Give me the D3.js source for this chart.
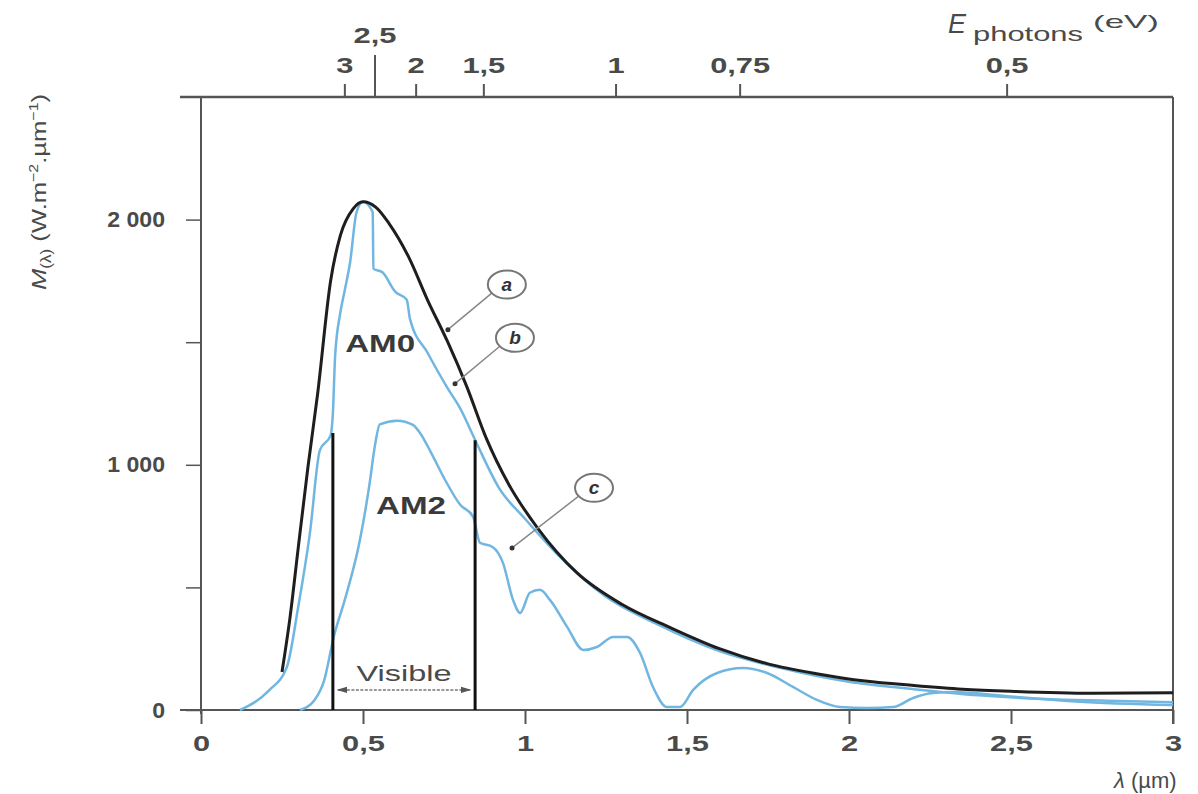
<!DOCTYPE html>
<html>
<head>
<meta charset="utf-8">
<script src="https://cdn.jsdelivr.net/npm/d3@7"></script>
<style>
  body { margin: 0; background: #fff; }
  svg { font-family: "Liberation Sans", Arial, sans-serif; }
  .tick-label { font-size: 22px; font-weight: bold; fill: #4a4a4a; }
</style>
</head>
<body>
<svg id="chart" width="1198" height="794"></svg>
<script>
"use strict";

// curve a : black body reference
var lambdaA = [0.25, 0.275, 0.30, 0.33, 0.36, 0.40, 0.43, 0.47, 0.50, 0.54, 0.58, 0.64, 0.70, 0.76, 0.82, 0.88, 0.95, 1.04, 1.16, 1.30, 1.45, 1.60, 1.75, 1.90, 2.05, 2.20, 2.35, 2.50, 2.75, 3.00];
var fluxA   = [155, 380, 660, 990, 1290, 1750, 1935, 2045, 2073, 2050, 1985, 1850, 1670, 1505, 1320, 1110, 920, 740, 560, 430, 335, 250, 188, 148, 118, 100, 85, 76, 68, 70];

// curve b : AM0
var lambdaB = [0.12, 0.21, 0.265, 0.30, 0.336, 0.367, 0.40, 0.407, 0.414, 0.43, 0.444, 0.46, 0.48, 0.50, 0.53, 0.532, 0.56, 0.60, 0.635, 0.645, 0.70, 0.76, 0.80, 0.85, 0.92, 1.00, 1.10, 1.25, 1.40, 1.60, 1.80, 2.00, 2.20, 2.40, 2.60, 2.80, 3.00];
var fluxB   = [0, 80, 175, 420, 720, 1060, 1120, 1210, 1445, 1620, 1714, 1824, 2030, 2073, 2030, 1800, 1785, 1705, 1673, 1595, 1455, 1315, 1230, 1090, 905, 780, 635, 462, 355, 240, 168, 115, 85, 60, 45, 38, 32];

// curve c : AM2
var lambdaC = [0.306, 0.35, 0.38, 0.41, 0.444, 0.49, 0.52, 0.537, 0.552, 0.605, 0.654, 0.676, 0.71, 0.753, 0.80, 0.84, 0.861, 0.90, 0.932, 0.963, 0.985, 1.015, 1.046, 1.077, 1.13, 1.18, 1.222, 1.272, 1.315, 1.355, 1.395, 1.438, 1.478, 1.519, 1.593, 1.673, 1.747, 1.827, 1.901, 1.972, 2.056, 2.136, 2.198, 2.259, 2.321, 2.50, 2.70, 3.00];
var fluxC   = [0, 40, 120, 300, 450, 690, 920, 1080, 1165, 1180, 1163, 1130, 1050, 939, 837, 788, 682, 665, 600, 449, 396, 478, 490, 449, 339, 245, 257, 298, 298, 233, 94, 12, 12, 82, 151, 171, 151, 94, 41, 12, 8, 12, 49, 69, 73, 55, 35, 20];

var xTicks = [0, 0.5, 1, 1.5, 2, 2.5, 3];
var xTickLabels = ["0", "0,5", "1", "1,5", "2", "2,5", "3"];
var yTicks = [0, 500, 1000, 1500, 2000];
var yTickLabels = {0: "0", 1000: "1 000", 2000: "2 000"};

// photon energy ticks (eV) and where they sit on the wavelength axis
var energyTicks = ["3", "2,5", "2", "1,5", "1", "0,75", "0,5"];
var energyTickLambda = [0.444, 0.537, 0.664, 0.873, 1.281, 1.664, 2.488];

var visibleBounds = [0.407, 0.846];
var visibleTops = [1130, 1100];

var svg = d3.select("#chart");
var x = d3.scaleLinear().domain([0, 3]).range([201, 1173]);
var y = d3.scaleLinear().domain([0, 2500]).range([710, 97]);

var axisColor = "#555";
var textColor = "#4a4a4a";

// the scanned lettering is wider than any installed face, stretch it
function widen(sel, k) {
  sel.each(function() {
    var w = this.getComputedTextLength();
    d3.select(this).attr("textLength", w * k).attr("lengthAdjust", "spacingAndGlyphs");
  });
}

// frame
svg.append("line").attr("x1", 180).attr("x2", x(3)).attr("y1", y(0)).attr("y2", y(0))
  .attr("stroke", axisColor).attr("stroke-width", 2);
svg.append("line").attr("x1", 180).attr("x2", x(3)).attr("y1", y(2500)).attr("y2", y(2500))
  .attr("stroke", axisColor).attr("stroke-width", 2.5);
svg.append("line").attr("x1", x(0)).attr("x2", x(0)).attr("y1", y(2500)).attr("y2", y(0) + 4)
  .attr("stroke", axisColor).attr("stroke-width", 2);
svg.append("line").attr("x1", x(3)).attr("x2", x(3)).attr("y1", y(2500)).attr("y2", y(0) + 14)
  .attr("stroke", axisColor).attr("stroke-width", 2);

// bottom axis
var xAxis = svg.append("g").attr("transform", "translate(0," + y(0) + ")")
  .call(d3.axisBottom(x).tickValues(xTicks).tickSize(14).tickSizeOuter(0)
    .tickFormat(function(d, i) { return xTickLabels[i]; }));
xAxis.select(".domain").remove();
xAxis.selectAll(".tick line").attr("stroke", axisColor).attr("stroke-width", 2);
xAxis.selectAll(".tick text").attr("class", "tick-label").attr("y", 25).attr("dy", "0.71em")
  .call(widen, 1.4);

// left axis
var yAxis = svg.append("g").attr("transform", "translate(" + x(0) + ",0)")
  .call(d3.axisLeft(y).tickValues(yTicks).tickSize(15).tickSizeOuter(0)
    .tickFormat(function(d) { return yTickLabels[d] || ""; }));
yAxis.select(".domain").remove();
yAxis.selectAll(".tick line").attr("stroke", axisColor).attr("stroke-width", 1.5);
yAxis.selectAll(".tick text").attr("class", "tick-label").attr("x", -36).call(widen, 1.05);

// top energy axis
var topAxis = svg.append("g");
energyTicks.forEach(function(label, i) {
  var px = x(energyTickLambda[i]);
  var isLong = label === "2,5";
  topAxis.append("line").attr("x1", px).attr("x2", px)
    .attr("y1", y(2500)).attr("y2", y(2500) - (isLong ? 42 : 13))
    .attr("stroke", axisColor).attr("stroke-width", 2);
  topAxis.append("text").attr("class", "tick-label")
    .attr("x", px).attr("y", isLong ? 43 : 73)
    .attr("text-anchor", "middle").text(label);
});
topAxis.selectAll("text").call(widen, 1.4);

// axis titles
svg.append("text").attr("x", 948).attr("y", 33).attr("font-size", 27)
  .attr("font-style", "italic").attr("fill", textColor).text("E");
svg.append("text").attr("x", 973).attr("y", 41).attr("font-size", 20)
  .attr("fill", textColor).attr("textLength", 110).attr("lengthAdjust", "spacingAndGlyphs").text("photons");
svg.append("text").attr("x", 1093).attr("y", 28).attr("font-size", 19)
  .attr("fill", textColor).attr("textLength", 66).attr("lengthAdjust", "spacingAndGlyphs").text("(eV)");

var lTitle = svg.append("text").attr("x", 1114).attr("y", 788).attr("fill", textColor).attr("font-size", 22);
lTitle.append("tspan").attr("font-style", "italic").text("λ");
lTitle.append("tspan").text(" (µm)");

var yTitle = svg.append("text").attr("transform", "translate(46,192) rotate(-90) scale(1.22,1)")
  .attr("text-anchor", "middle").attr("fill", textColor).attr("font-size", 21);
yTitle.append("tspan").attr("font-style", "italic").text("M");
yTitle.append("tspan").attr("font-size", 14).attr("dy", 5).text("(λ)");
yTitle.append("tspan").attr("dy", -5).text(" (W.m");
yTitle.append("tspan").attr("font-size", 13).attr("dy", -8).text("−2");
yTitle.append("tspan").attr("dy", 8).text(".µm");
yTitle.append("tspan").attr("font-size", 13).attr("dy", -8).text("−1");
yTitle.append("tspan").attr("dy", 8).text(")");

// curves
var line = d3.line()
  .x(function(d) { return x(d[0]); })
  .y(function(d) { return y(d[1]); })
  .curve(d3.curveMonotoneX);

function pairs(xs, ys) { return xs.map(function(v, i) { return [v, ys[i]]; }); }

svg.append("path").datum(pairs(lambdaC, fluxC)).attr("d", line)
  .attr("fill", "none").attr("stroke", "#70b6e0").attr("stroke-width", 2.5);
svg.append("path").datum(pairs(lambdaB, fluxB)).attr("d", line)
  .attr("fill", "none").attr("stroke", "#70b6e0").attr("stroke-width", 2.5);
svg.append("path").datum(pairs(lambdaA, fluxA)).attr("d", line)
  .attr("fill", "none").attr("stroke", "#1e1e1e").attr("stroke-width", 3);

// visible band
visibleBounds.forEach(function(l, i) {
  svg.append("line").attr("x1", x(l)).attr("x2", x(l))
    .attr("y1", y(0)).attr("y2", y(visibleTops[i]))
    .attr("stroke", "#111").attr("stroke-width", 3);
});
svg.append("defs").append("marker").attr("id", "arr").attr("viewBox", "0 0 10 10")
  .attr("refX", 9).attr("refY", 5).attr("markerWidth", 7).attr("markerHeight", 7)
  .attr("orient", "auto-start-reverse")
  .append("path").attr("d", "M0,2 L10,5 L0,8 z").attr("fill", "#555");
svg.append("line").attr("x1", x(visibleBounds[0]) + 5).attr("x2", x(visibleBounds[1]) - 5)
  .attr("y1", y(82)).attr("y2", y(82))
  .attr("stroke", "#777").attr("stroke-width", 1.5).attr("stroke-dasharray", "3,1.5")
  .attr("marker-start", "url(#arr)").attr("marker-end", "url(#arr)");
svg.append("text").attr("x", x((visibleBounds[0] + visibleBounds[1]) / 2)).attr("y", y(118))
  .attr("text-anchor", "middle").attr("font-size", 22).attr("fill", textColor)
  .attr("textLength", 95).attr("lengthAdjust", "spacingAndGlyphs").text("Visible");

// curve names
svg.append("text").attr("x", x(0.445)).attr("y", y(1460)).attr("font-size", 23)
  .attr("font-weight", "bold").attr("fill", "#3a3a3a")
  .attr("textLength", 70).attr("lengthAdjust", "spacingAndGlyphs").text("AM0");
svg.append("text").attr("x", x(0.54)).attr("y", y(800)).attr("font-size", 23)
  .attr("font-weight", "bold").attr("fill", "#3a3a3a")
  .attr("textLength", 70).attr("lengthAdjust", "spacingAndGlyphs").text("AM2");

// callouts
var callouts = [
  {label: "a", at: [0.944, 1735], to: [0.762, 1551]},
  {label: "b", at: [0.969, 1518], to: [0.784, 1331]},
  {label: "c", at: [1.213, 906], to: [0.960, 661]}
];
callouts.forEach(function(c) {
  var cx = x(c.at[0]), cy = y(c.at[1]);
  var tx = x(c.to[0]), ty = y(c.to[1]);
  var ang = Math.atan2(ty - cy, tx - cx);
  svg.append("line").attr("x1", cx + 19 * Math.cos(ang)).attr("y1", cy + 14 * Math.sin(ang))
    .attr("x2", tx).attr("y2", ty).attr("stroke", "#888").attr("stroke-width", 1.5);
  svg.append("circle").attr("cx", tx).attr("cy", ty).attr("r", 2.5).attr("fill", "#333");
  svg.append("ellipse").attr("cx", cx).attr("cy", cy).attr("rx", 19).attr("ry", 14)
    .attr("fill", "#fff").attr("stroke", "#777").attr("stroke-width", 2);
  svg.append("text").attr("x", cx).attr("y", cy + 6).attr("text-anchor", "middle")
    .attr("font-size", 19).attr("font-style", "italic").attr("font-weight", "bold")
    .attr("fill", "#333").text(c.label);
});
</script>
</body>
</html>
